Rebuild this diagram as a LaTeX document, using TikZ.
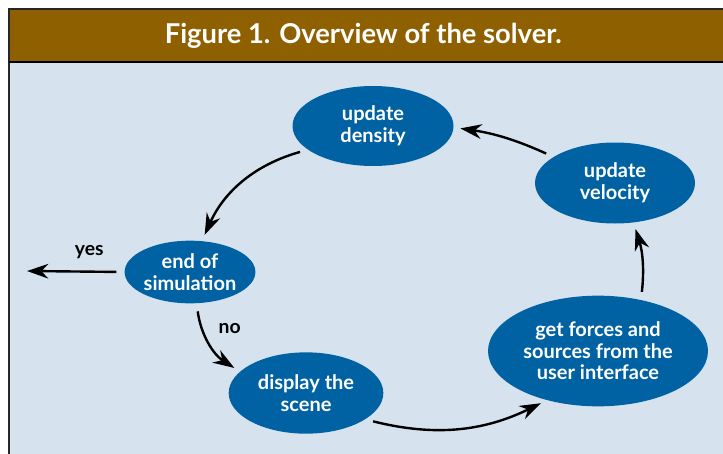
\documentclass[tikz,border=0pt]{standalone}
\usepackage{fontspec}
\setsansfont{Lato}
\usepackage{xcolor}
\usetikzlibrary{arrows.meta,positioning,shapes.geometric}
\definecolor{headbrown}{RGB}{143,96,0}
\definecolor{panelblue}{RGB}{214,227,238}
\definecolor{stageblue}{RGB}{0,98,163}

\begin{document}
\begin{tikzpicture}[
      % one unit is one point of the page
      x=1pt,y=1pt
      ]
      \useasboundingbox (0,0) rectangle (542.25,-339.75);
      % frame and title bar
      \fill[panelblue] (6.75,-46.5) rectangle (560,-360);
      \fill[headbrown] (6.75,-6.75) rectangle (560,-46.5);
      \draw[line width=1.5pt,black!85] (560,-6.75) -- (6.75,-6.75) -- (6.75,-360);
      \draw[line width=1.2pt] (6.75,-46.5) -- (560,-46.5);
      \node[text=white,font=\sffamily\bfseries\fontsize{20.5}{24}\selectfont] (title) at (272.5,-27) {Figure 1. Overview of the solver.};

      \begin{scope}[node distance=2cm,on grid,>={Stealth[length=16pt,width=11pt]},
        stage/.style={ellipse,fill=stageblue,text=white,inner sep=0pt,align=center,font=\sffamily\bfseries\fontsize{15}{16.2}\selectfont},
        flow/.style={->,line width=1.8pt,shorten <=6pt,shorten >=5pt},
        answer/.style={inner sep=0pt,font=\sffamily\bfseries\fontsize{14.5}{16}\selectfont}]

        \node[stage, minimum width=120.75pt, minimum height=60pt] (density) at (279.75,-94.5) {update\\density};
        \node[stage, minimum width=92pt, minimum height=47pt, below left=109.5pt and 137.25pt of density] (endsim) {end of\\simulation};
        \node[stage, minimum width=116pt, minimum height=61pt, below right=90.75pt and 87pt of endsim] (scene) {display the\\scene};
        \node[stage, minimum width=165pt, minimum height=83pt, above right=31.5pt and 219pt of scene] (forces) {get forces and\\sources from the\\user interface};
        \node[stage, minimum width=120pt, minimum height=60.75pt, above right=126pt and 12.75pt of forces] (velocity) {update\\velocity};
        \coordinate (exit) at (20.25,-203.25);

        \draw[flow, bend right=25] (density.200) to (endsim.69);
        \draw[flow, bend right=25] (endsim.282) to node[answer, pos=0.3, right=11pt] (no) {no} (scene.162);
        \draw[flow, bend right=20] (scene.336) to (forces.224);
        \draw[flow, bend right=12] (forces.50) to (velocity.295);
        \draw[flow, bend right=8] (velocity.157) to (density.359);
        % leaving the loop
        \draw[flow, shorten >=0pt] (endsim.west) -- node[answer, pos=0.36, above=9pt] (yes) {yes} (exit);
      \end{scope}

    \end{tikzpicture}
\end{document}
